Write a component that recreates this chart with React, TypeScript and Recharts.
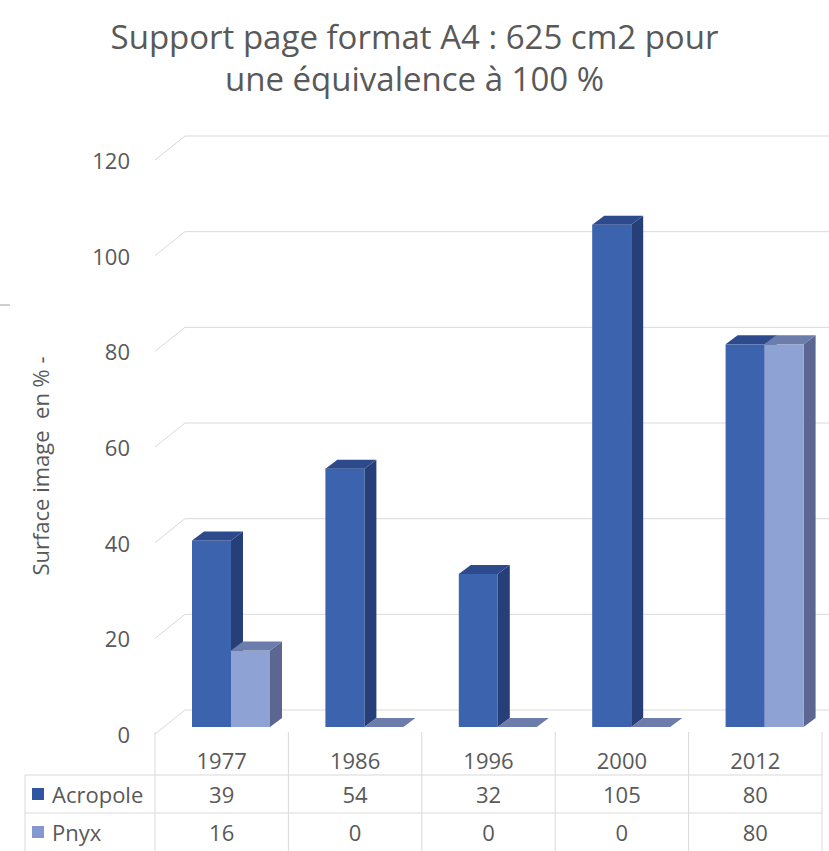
import React from 'react';
import { BarChart, Bar, XAxis, YAxis, CartesianGrid } from 'recharts';

const categories = ['1977', '1986', '1996', '2000', '2012'];
const acropole = [39, 54, 32, 105, 80];
const pnyx = [16, 0, 0, 0, 80];
const yTicks = [0, 20, 40, 60, 80, 100, 120];
const seriesNames = ['Acropole', 'Pnyx'];

const data = categories.map((c, i) => ({ year: c, Acropole: acropole[i], Pnyx: pnyx[i] }));

const W = 829;
const H = 851;
const PLOT_LEFT = 155;
const PLOT_RIGHT = 822;
const PLOT_TOP = 160;
const PLOT_BOTTOM = 734;
const BAND = (PLOT_RIGHT - PLOT_LEFT) / categories.length;
const TEXT = '#595959';
const LINE = '#d9d9d9';
const FONT = '"Open Sans", "Noto Sans", sans-serif';

// 3D projection offsets
const WALL_DX = 30;
const WALL_DY = -24;
const BAR_SHIFT_X = 9;
const BAR_SHIFT_Y = -7;
const BAR_DX = 12;
const BAR_DY = -9;

const COLORS = {
  Acropole: { front: '#3b63ae', side: '#263f78', top: '#2d4b8c', key: '#2f55a0' },
  Pnyx: { front: '#8fa2d4', side: '#5b6790', top: '#6c7cab', key: '#8497d0' },
};

const make3DShape = (c: { front: string; side: string; top: string }) => (props: any) => {
  const { x, y, width, height } = props;
  if (x == null || y == null) return <g />;
  const fx = x + BAR_SHIFT_X;
  const fy = y + BAR_SHIFT_Y;
  const w = width;
  const h = Math.max(0, height || 0);
  const top = `${fx},${fy} ${fx + BAR_DX},${fy + BAR_DY} ${fx + w + BAR_DX},${fy + BAR_DY} ${fx + w},${fy}`;
  const side = `${fx + w},${fy} ${fx + w + BAR_DX},${fy + BAR_DY} ${fx + w + BAR_DX},${fy + h + BAR_DY} ${fx + w},${fy + h}`;
  return (
    <g>
      {h > 0 && <polygon points={side} fill={c.side} />}
      {h > 0 && <rect x={fx} y={fy} width={w} height={h} fill={c.front} />}
      <polygon points={top} fill={c.top} />
    </g>
  );
};

const gridLine = (props: any) => {
  const { x1, y1, index } = props;
  return (
    <g key={`grid-${index}-${y1}`}>
      <line x1={x1} y1={y1} x2={x1 + WALL_DX} y2={y1 + WALL_DY} stroke={LINE} strokeWidth={1} />
      <line x1={x1 + WALL_DX} y1={y1 + WALL_DY} x2={W} y2={y1 + WALL_DY} stroke={LINE} strokeWidth={1} />
    </g>
  );
};

const YTick = (props: any) => {
  const { y, payload } = props;
  return (
    <text x={130} y={y} textAnchor="end" dominantBaseline="central" fontSize={22} fill={TEXT} fontFamily={FONT}>
      {payload.value}
    </text>
  );
};

const YEAR_Y = 760;
const ROW_LINE_1 = 775;
const ROW_LINE_2 = 813;
const ROW1_Y = 794;
const ROW2_Y = 832;
const TABLE_LEFT = 25;

const TableTick = (props: any) => {
  const { x, index, payload } = props;
  const left = x - BAND / 2;
  const right = x + BAND / 2;
  const rows = [acropole, pnyx];
  const rowYs = [ROW1_Y, ROW2_Y];
  return (
    <g>
      <line x1={left} y1={PLOT_BOTTOM - 2} x2={left} y2={H} stroke={LINE} />
      {index === categories.length - 1 && (
        <line x1={right} y1={PLOT_BOTTOM - 2} x2={right} y2={H} stroke={LINE} />
      )}
      {index === 0 && (
        <g>
          <line x1={TABLE_LEFT} y1={ROW_LINE_1} x2={PLOT_RIGHT} y2={ROW_LINE_1} stroke={LINE} />
          <line x1={TABLE_LEFT} y1={ROW_LINE_2} x2={PLOT_RIGHT} y2={ROW_LINE_2} stroke={LINE} />
          <line x1={TABLE_LEFT} y1={ROW_LINE_1} x2={TABLE_LEFT} y2={H} stroke={LINE} />
          {seriesNames.map((n, i) => (
            <g key={n}>
              <rect x={32} y={rowYs[i] - 6} width={12} height={12} fill={(COLORS as any)[n].key} />
              <text x={52} y={rowYs[i]} dominantBaseline="central" fontSize={22} fill={TEXT} fontFamily={FONT}>
                {n}
              </text>
            </g>
          ))}
        </g>
      )}
      <text x={x} y={YEAR_Y} textAnchor="middle" dominantBaseline="central" fontSize={22} fill={TEXT} fontFamily={FONT}>
        {payload.value}
      </text>
      {rows.map((r, i) => (
        <text key={i} x={x} y={rowYs[i]} textAnchor="middle" dominantBaseline="central" fontSize={22} fill={TEXT} fontFamily={FONT}>
          {r[index]}
        </text>
      ))}
    </g>
  );
};

export default function App() {
  return (
    <div style={{ position: 'absolute', left: 0, top: 0, width: W, height: H, background: '#fff', fontFamily: FONT, overflow: 'hidden' }}>
      <div
        style={{
          position: 'absolute',
          left: 0,
          top: 16,
          width: W,
          textAlign: 'center',
          fontSize: 33,
          lineHeight: '42px',
          color: TEXT,
        }}
      >
        <div>Support page format A4 : 625 cm2 pour</div>
        <div>une équivalence à 100 %</div>
      </div>
      <div
        style={{
          position: 'absolute',
          left: 40,
          top: 466,
          transform: 'translate(-50%, -50%) rotate(-90deg)',
          whiteSpace: 'pre',
          fontSize: 22,
          color: TEXT,
        }}
      >
        {'Surface image  en % -'}
      </div>
      <div style={{ position: 'absolute', left: 0, top: 304, width: 10, height: 2, background: '#d0d0d0' }} />
      <div style={{ position: 'absolute', left: 0, top: 0 }}>
        <BarChart
          width={W}
          height={H}
          data={data}
          margin={{ top: PLOT_TOP, right: W - PLOT_RIGHT, bottom: 0, left: 0 }}
          barGap={0}
          barSize={39}
        >
          <CartesianGrid vertical={false} horizontal={gridLine} />
          <XAxis dataKey="year" height={H - PLOT_BOTTOM} axisLine={false} tickLine={false} tick={<TableTick />} interval={0} />
          <YAxis
            width={PLOT_LEFT}
            domain={[0, 120]}
            ticks={yTicks}
            axisLine={false}
            tickLine={false}
            tick={<YTick />}
            interval={0}
          />
          <Bar dataKey="Acropole" isAnimationActive={false} shape={make3DShape(COLORS.Acropole)} />
          <Bar dataKey="Pnyx" isAnimationActive={false} shape={make3DShape(COLORS.Pnyx)} />
        </BarChart>
      </div>
    </div>
  );
}
